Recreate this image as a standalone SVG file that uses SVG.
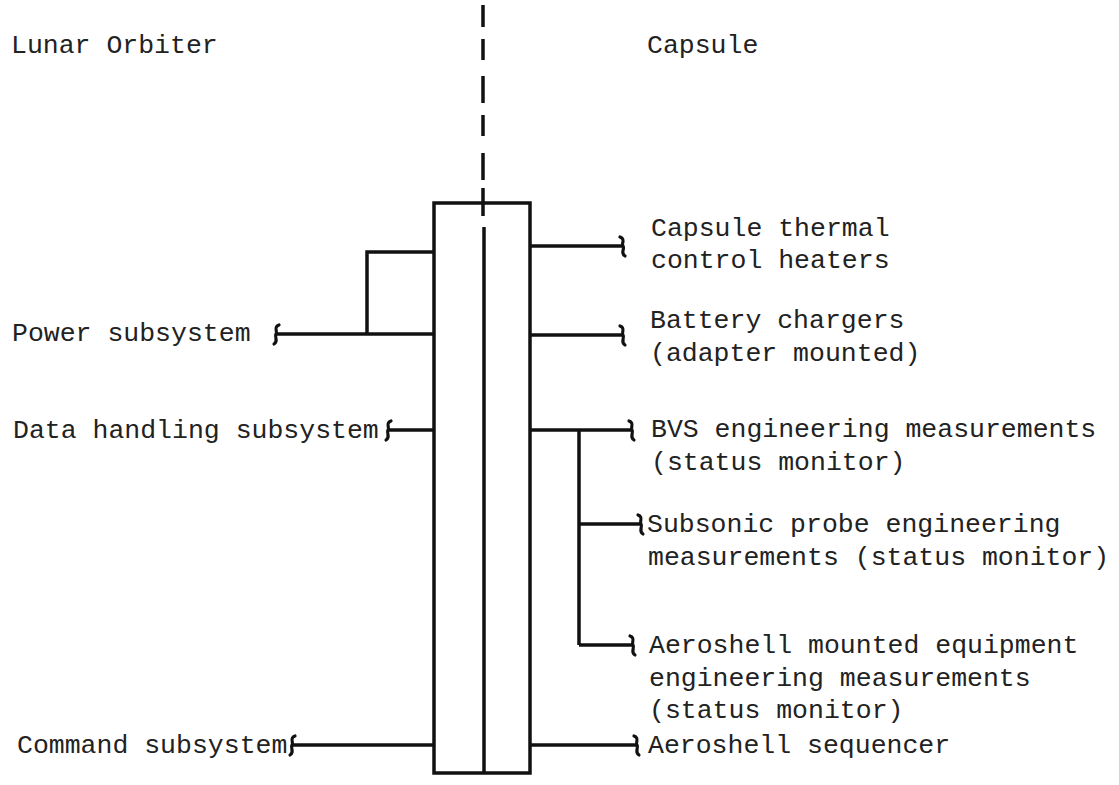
<svg xmlns="http://www.w3.org/2000/svg" width="1119" height="785" viewBox="0 0 1119 785">
<style>
text{font-family:"Liberation Mono","DejaVu Sans Mono",monospace;font-size:26.5px;fill:#222}
.ln{fill:none;stroke:#111;stroke-width:3.5;stroke-linecap:butt;stroke-linejoin:miter}
.mk{fill:none;stroke:#111;stroke-width:3.2;stroke-linecap:round}
</style>
<defs>
<path id="mkR" d="M -3,-9 C 3,-7 -2,-2 0,0 C 2,3 -3,7 2,10"/>
<path id="mkL" d="M 3,-9 C -3,-7 2,-2 0,0 C -2,3 3,7 -2,10"/>
</defs>
<rect width="1119" height="785" fill="#fff"/>
<g id="titles">
<text x="11" y="53">Lunar Orbiter</text>
<text x="647" y="53">Capsule</text>
</g>
<g id="divider" class="ln">
<line x1="483" y1="5" x2="483" y2="27"/>
<line x1="483" y1="39" x2="483" y2="60"/>
<line x1="483" y1="76" x2="483" y2="103"/>
<line x1="483" y1="115" x2="483" y2="136"/>
<line x1="483" y1="153" x2="483" y2="180"/>
<line x1="483" y1="188" x2="483" y2="216"/>
</g>
<g id="interface">
<rect class="ln" x="434" y="203" width="96" height="570"/>
<line class="ln" x1="484" y1="227" x2="484" y2="773"/>
</g>
<g id="connectors">
<polyline class="ln" points="434,252 367,252 367,334"/>
<line class="ln" x1="277" y1="334" x2="434" y2="334"/>
<line class="ln" x1="389" y1="430" x2="434" y2="430"/>
<line class="ln" x1="293" y1="745" x2="434" y2="745"/>
<line class="ln" x1="530" y1="246" x2="622" y2="246"/>
<line class="ln" x1="530" y1="335" x2="622" y2="335"/>
<line class="ln" x1="530" y1="430" x2="631" y2="430"/>
<line class="ln" x1="579" y1="430" x2="579" y2="645"/>
<line class="ln" x1="579" y1="524" x2="640" y2="524"/>
<line class="ln" x1="579" y1="645" x2="632" y2="645"/>
<line class="ln" x1="530" y1="745" x2="636" y2="745"/>
<use href="#mkL" class="mk" x="276" y="334"/>
<use href="#mkL" class="mk" x="388" y="430"/>
<use href="#mkL" class="mk" x="292" y="745"/>
<use href="#mkR" class="mk" x="623" y="246"/>
<use href="#mkR" class="mk" x="623" y="335"/>
<use href="#mkR" class="mk" x="632" y="430"/>
<use href="#mkR" class="mk" x="641" y="524"/>
<use href="#mkR" class="mk" x="633" y="645"/>
<use href="#mkR" class="mk" x="637" y="745"/>
</g>
<g id="power"><text x="12" y="341">Power subsystem</text></g>
<g id="data"><text x="13" y="438">Data handling subsystem</text></g>
<g id="command"><text x="17" y="753">Command subsystem</text></g>
<g id="thermal"><text x="651" y="236">Capsule thermal</text><text x="651" y="268">control heaters</text></g>
<g id="battery"><text x="650" y="328">Battery chargers</text><text x="650" y="361">(adapter mounted)</text></g>
<g id="bvs"><text x="651" y="437">BVS engineering measurements</text><text x="651" y="470">(status monitor)</text></g>
<g id="subsonic"><text x="647" y="532">Subsonic probe engineering</text><text x="648" y="565">measurements (status monitor)</text></g>
<g id="aeroshell-eq"><text x="649" y="653">Aeroshell mounted equipment</text><text x="649" y="686">engineering measurements</text><text x="649" y="718">(status monitor)</text></g>
<g id="sequencer"><text x="648" y="753">Aeroshell sequencer</text></g>
</svg>
